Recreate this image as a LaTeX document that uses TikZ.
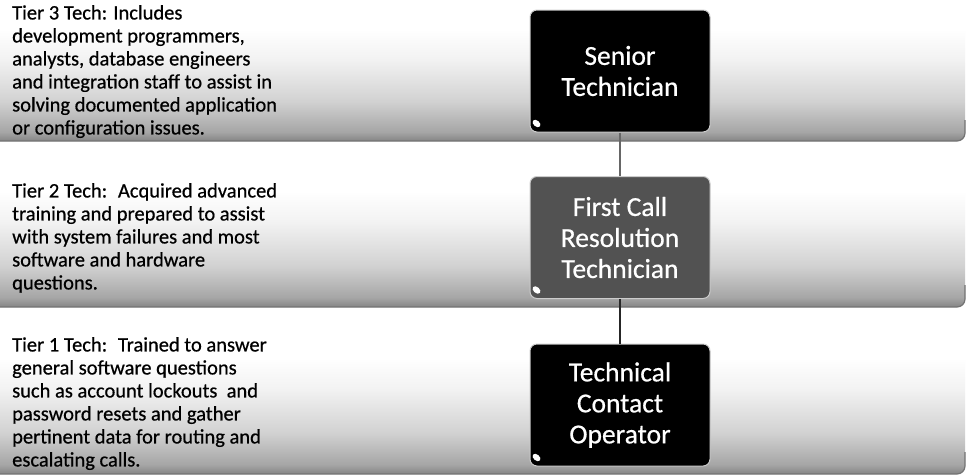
\documentclass[tikz,border=0pt]{standalone}
\usepackage{fontspec}
\setmainfont{Carlito}[FakeBold=0.6]
\pgfdeclareverticalshading{bandshade}{100bp}{color(0bp)=(black!48); color(25bp)=(black!48); color(28bp)=(black!35); color(38bp)=(black!18); color(52bp)=(black!5); color(62bp)=(white); color(100bp)=(white)}
\tikzset{
  band/.style={shading=bandshade, rounded corners=8pt},
  bandedge/.style={draw=black!55, line width=1.2pt, rounded corners=8pt},
  tierbox/.style={rounded corners=7pt, draw=black!20, line width=1pt, text=white,
    minimum width=180pt, minimum height=122pt, inner sep=0pt, align=center,
    font=\fontsize{27.5}{31}\selectfont},
  desc/.style={anchor=north west, inner sep=0pt, align=left,
    font=\fontsize{20.5}{23}\selectfont},
  conn/.style={line width=2pt},
  gloss/.style={fill=white}
}
\begin{document}
\begin{tikzpicture}[x=1pt,y=-1pt]
\useasboundingbox (0,0) rectangle (969,475);
\fill[white] (0,0) rectangle (969,475);
% bands
\path[band] (-10,-10) rectangle (965,141);
\draw[bandedge] (-10,141) -- (965,141) -- (965,120);
\path[band] (-10,150) rectangle (965,307);
\draw[bandedge] (-10,307) -- (965,307) -- (965,285);
\path[band] (-10,317) rectangle (965,474);
\draw[bandedge] (-10,474) -- (965,474) -- (965,452);
% descriptions
\node[desc] (t3) at (12,5) {Tier 3 Tech: Includes\\development programmers,\\analysts, database engineers\\and integration staff to assist in\\solving documented application\\or configuration issues.};
\node[desc] (t2) at (12,183) {Tier 2 Tech:~ Acquired advanced\\training and prepared to assist\\with system failures and most\\software and hardware\\questions.};
\node[desc] (t1) at (12,337) {Tier 1 Tech:~ Trained to answer\\general software questions\\such as account lockouts~ and\\password resets and gather\\pertinent data for routing and\\escalating calls.};
% boxes
\node[tierbox, fill=black] (b1) at (620,71) {Senior\\Technician};
\node[tierbox, fill=black!68] (b2) at (620,237.5) {First Call\\Resolution\\Technician};
\node[tierbox, fill=black] (b3) at (620,405) {Technical\\Contact\\Operator};
% gloss spots
\fill[gloss] ([shift={(7,-9)}]b1.south west) ellipse [x radius=4.5, y radius=3, rotate=-40];
\fill[gloss] ([shift={(7,-9)}]b2.south west) ellipse [x radius=4.5, y radius=3, rotate=-40];
\fill[gloss] ([shift={(7,-9)}]b3.south west) ellipse [x radius=4.5, y radius=3, rotate=-40];
% connectors
\draw[conn, black!60] (b1.south) -- (b2.north);
\draw[conn, black!85] (b2.south) -- (b3.north);
\end{tikzpicture}
\end{document}
